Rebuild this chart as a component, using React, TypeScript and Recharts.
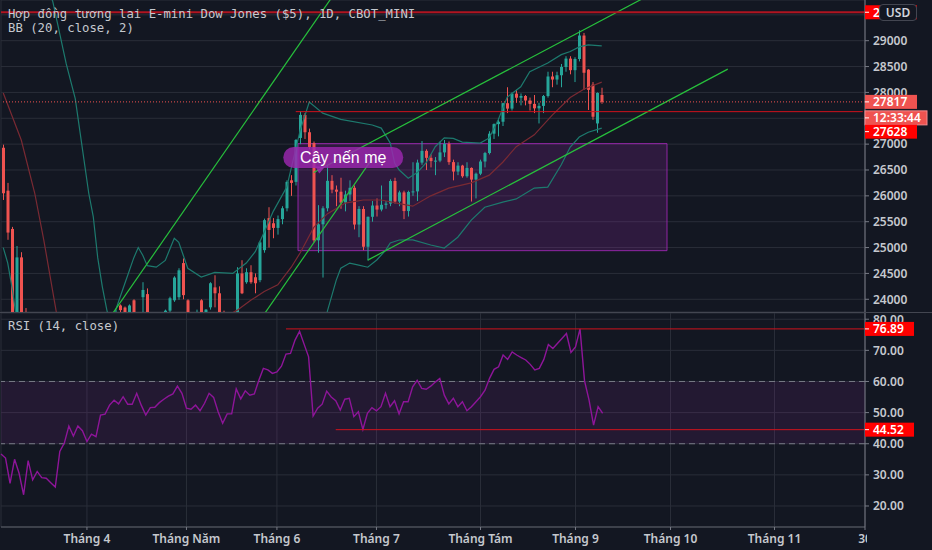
import React from "react";
import {
  ComposedChart,
  Bar,
  Line,
  XAxis,
  YAxis,
  CartesianGrid,
  ReferenceLine,
  ReferenceArea,
  ReferenceDot,
} from "recharts";

const BG = "#131722";
const GRID = "#2a2e39";
const TEXT = "#c5c8ce";
const UP = "#26a69a";
const DOWN = "#ef5350";
const RAY = "#d0121c";
const TREND = "#27c03c";
const BAND = "#1d7a6e";
const BASIS = "#7a2a33";
const RSI_COLOR = "#8e1599";
const AXIS_FONT = "'Noto Sans', 'DejaVu Sans', sans-serif";
const MONO = "'DejaVu Sans Mono', 'Liberation Mono', monospace";
const PLOT_RIGHT = 865;
const USD_LEFT = 879;

// daily bars, [open, high, low, close]; bar 0 is the first one at the left edge
const CANDLES: [number, number, number, number][] = [
  [26930, 26990, 25920, 26050], [26100, 26250, 25150, 25290], [25360, 25400, 23300, 23600],
  [23600, 25030, 23300, 24810], [24810, 24910, 23400, 23500], [23500, 23830, 21100, 21300],
  [21300, 23200, 20900, 23100], [22000, 22300, 20100, 20300], [20300, 21400, 19800, 21150],
  [21150, 21300, 19000, 19900], [19900, 20500, 19100, 20100], [20100, 20800, 19100, 19200],
  [19200, 19400, 18200, 18600], [18600, 20700, 18500, 20650], [20650, 21900, 20300, 21200],
  [21200, 22600, 21000, 22500], [22500, 22600, 21400, 21600], [21600, 22400, 21200, 22300],
  [22300, 22700, 21800, 21900], [21900, 21950, 20700, 20900], [20900, 21500, 20700, 21400],
  [21400, 21500, 20800, 21000], [21300, 22700, 21200, 22650], [22650, 23300, 22400, 22600],
  [22600, 23500, 22400, 23400], [23400, 23800, 23300, 23700], [23880, 23900, 23650, 23790],
  [23840, 23860, 23300, 23400], [23400, 23900, 23300, 23880], [23980, 24000, 23400, 23500],
  [23500, 23700, 23200, 23550], [24040, 24330, 23750, 24180], [24100, 24210, 23500, 23650],
  [23650, 23700, 22900, 23020], [23020, 23600, 23000, 23480], [23480, 23700, 23300, 23520],
  [23520, 23800, 23450, 23780], [23780, 24050, 23700, 24020], [23980, 24445, 23950, 24420],
  [24040, 24600, 23990, 24560], [24700, 24790, 24000, 24080], [23980, 24000, 23500, 23700],
  [23700, 23750, 23300, 23600], [23600, 23800, 23450, 23750], [23980, 24000, 23600, 23700],
  [23650, 23810, 23550, 23800], [23844, 24330, 23800, 24310], [24230, 24465, 23844, 24116],
  [24116, 24250, 23650, 23700], [23740, 23780, 23200, 23250], [23250, 23650, 22950, 23620],
  [23620, 23700, 23400, 23680], [23700, 24620, 23680, 24500], [24500, 24755, 24100, 24116],
  [24330, 24600, 24300, 24523], [24523, 24658, 24300, 24330], [24426, 24500, 24116, 24310],
  [24370, 25130, 24330, 25100], [24950, 25560, 24900, 25530], [25570, 25780, 25000, 25340],
  [25470, 25570, 25180, 25380], [25380, 25620, 25250, 25550], [25550, 25800, 25450, 25760],
  [25760, 26300, 25700, 26270], [26300, 26400, 26000, 26250], [26270, 27100, 26200, 27080],
  [27120, 27630, 27000, 27565], [27565, 27600, 27100, 27230], [27230, 27300, 26900, 26945],
  [27020, 27050, 25100, 25140], [25140, 25820, 24900, 25450], [25450, 25800, 24420, 25760],
  [25760, 26600, 25700, 26290], [26290, 26400, 26050, 26120], [26120, 26200, 25800, 26080],
  [26080, 26350, 25750, 25870], [25870, 26100, 25700, 26025], [26025, 26300, 25900, 26156],
  [26156, 26200, 25350, 25445], [25445, 25800, 25200, 25746], [25746, 25800, 24950, 25016],
  [25016, 25600, 24750, 25595], [25595, 25900, 25500, 25813], [25813, 25950, 25600, 25735],
  [25735, 26200, 25700, 25827], [25827, 25900, 25750, 25850], [25850, 26320, 25800, 26287],
  [26287, 26350, 25850, 25890], [25890, 26100, 25800, 26067], [26067, 26100, 25550, 25706],
  [25706, 26100, 25600, 26075], [26075, 26650, 26000, 26086], [26086, 26700, 25900, 26643],
  [26643, 27060, 26600, 26870], [26870, 26900, 26500, 26735], [26735, 26800, 26550, 26672],
  [26672, 26750, 26400, 26681], [26681, 27050, 26650, 26840], [26840, 27080, 26750, 27005],
  [27005, 27050, 26600, 26652], [26652, 26700, 26300, 26470], [26470, 26650, 26400, 26585],
  [26585, 26600, 26350, 26379], [26379, 26650, 26350, 26540], [26540, 26550, 25890, 26314],
  [26314, 26450, 25950, 26428], [26428, 26700, 26400, 26664], [26664, 26850, 26550, 26828],
  [26828, 27250, 26800, 27202], [27202, 27400, 27100, 27387], [27387, 27500, 27150, 27433],
  [27433, 27800, 27350, 27791], [27791, 28100, 27600, 27687], [27687, 28000, 27650, 27977],
  [27977, 28050, 27800, 27897], [27897, 27980, 27750, 27931], [27931, 27950, 27750, 27844],
  [27844, 27900, 27650, 27778], [27778, 27950, 27600, 27692], [27692, 27800, 27400, 27739],
  [27739, 27950, 27600, 27930], [27930, 28400, 27900, 28308], [28308, 28400, 28100, 28249],
  [28249, 28400, 28150, 28332], [28332, 28550, 28100, 28492], [28492, 28700, 28400, 28654],
  [28654, 28700, 28350, 28430], [28430, 28680, 28200, 28646], [28646, 29200, 28600, 29100],
  [29100, 29150, 28050, 28380], [28440, 28450, 27660, 28050], [28150, 28200, 27470, 27530],
  [27400, 28000, 27220, 27990], [27950, 28090, 27780, 27817],
];

// Bollinger band points: [bar, price]
const BB_UPPER: [number, number][] = [
  [0, 31500], [5, 30800], [9, 30200], [11, 29760], [14, 28550], [16, 27880], [19, 26050],
  [20, 25600], [21, 24800], [22, 24250], [23, 23800], [24, 23450], [25, 23800], [27, 24300],
  [29, 24800], [30, 25000], [31, 24850], [32, 24650], [34, 24620], [36, 24750], [38, 25180],
  [39, 25100], [40, 24850], [41, 24600], [44, 24430], [47, 24520], [51, 24500], [54, 24700],
  [56, 24920], [58, 25300], [60, 25700], [63, 26170], [66, 27270], [68, 27815], [71, 27600],
  [75, 27480], [82, 27370], [84, 27310], [86, 27020], [87, 26630], [88, 26500], [90, 26340],
  [92, 26450], [94, 26640], [96, 26950], [98, 27120], [100, 27110], [102, 27040], [106, 27020],
  [108, 27120], [110, 27470], [112, 27910], [115, 28110], [117, 28400], [121, 28570],
  [124, 28730], [126, 28790], [128, 28880], [130, 28920], [133, 28900],
];
const BB_BASIS: [number, number][] = [
  [0, 27990], [4, 27080], [7, 26050], [9, 25150], [12, 23650], [15, 22600], [20, 21500],
  [25, 21700], [30, 22500], [35, 23000], [40, 23400], [45, 23500], [48, 23600], [52, 23790],
  [55, 23980], [58, 24150], [61, 24280], [64, 24620], [66, 24900], [69, 25390], [72, 25650],
  [76, 25860], [80, 25920], [84, 25920], [88, 25850], [91, 25800], [95, 26000], [99, 26150],
  [104, 26250], [108, 26400], [111, 26650], [114, 26950], [118, 27180], [122, 27560],
  [126, 27900], [129, 28060], [133, 28200],
];
const BB_LOWER: [number, number][] = [
  [0, 25000], [1, 24700], [2, 24200], [3, 23600], [5, 22600], [8, 20500], [12, 17500],
  [16, 16200], [20, 16000], [25, 17000], [30, 19000], [35, 21200], [40, 22300], [45, 22800],
  [50, 22800], [55, 22800], [60, 22700], [64, 22600], [67, 22700], [69, 23000], [71, 23500],
  [72, 23760], [74, 24370], [75, 24600], [77, 24700], [79, 24660], [81, 24620], [83, 24760],
  [85, 24950], [86, 25090], [88, 25146], [91, 25150], [95, 25050], [98, 24990], [101, 25200],
  [104, 25530], [107, 25780], [111, 25880], [114, 25940], [118, 26150], [121, 26170],
  [124, 26600], [126, 26945], [128, 27138], [130, 27230], [133, 27310],
];

// RSI(14) per bar
const RSI: number[] = [
  36.7, 35.4, 27.3, 35.0, 30.5, 23.6, 34.6, 28.4, 31.1, 29.1,
  28.9, 27.5, 26.1, 37.5, 40.2, 45.7, 42.5, 45.7, 44.2, 40.7,
  43.1, 42.3, 49.2, 49.5, 52.4, 54.0, 52.8, 55.1, 52.7, 52.7,
  56.2, 52.4, 49.2, 51.6, 51.7, 53.2, 54.3, 55.3, 56.0, 58.5,
  56.2, 51.4, 51.1, 52.4, 50.6, 53.0, 56.2, 54.9, 50.3, 46.6,
  49.6, 49.6, 57.6, 54.4, 57.0, 55.6, 56.0, 60.4, 64.2, 63.7,
  62.6, 63.1, 64.9, 68.8, 69.0, 73.3, 76.1, 72.0, 67.9, 48.9,
  51.4, 52.7, 56.9, 55.0, 53.8, 50.8, 54.3, 54.6, 48.7, 50.3,
  44.6, 49.8, 51.6, 50.6, 51.9, 56.2, 51.9, 53.8, 49.6, 53.5,
  53.5, 58.3, 60.4, 57.8, 57.5, 58.5, 59.8, 61.0, 55.6, 52.8,
  54.6, 51.9, 53.5, 50.6, 51.9, 53.5, 55.1, 57.2, 61.0, 63.9,
  64.7, 68.5, 67.1, 69.5, 68.5, 67.7, 66.9, 65.5, 63.7, 64.2,
  67.1, 71.9, 70.6, 72.2, 73.8, 75.4, 69.3, 71.1, 76.9, 60.2,
  54.0, 46.0, 51.9, 49.8,
];

const SLOTS = 192;
const MONTH_TICKS = [19, 41, 61, 83, 106, 127, 148, 171, 191];
const MONTH_LABELS = ["Tháng 4", "Tháng Năm", "Tháng 6", "Tháng 7", "Tháng Tám", "Tháng 9", "Tháng 10", "Tháng 11", "30"];
const PRICE_TICKS = [24000, 24500, 25000, 25500, 26000, 26500, 27000, 27500, 28000, 28500, 29000, 29500];
// scale labels that sit fully under a price tag on the original
const HIDDEN_PRICE_LABELS = [27500, 29500];
const RSI_TICKS = [20, 30, 40, 50, 60, 70, 80];
const PRICE_DOMAIN: [number, number] = [23754, 29787];
const RSI_DOMAIN: [number, number] = [13.25, 82.0];

const LAST_PRICE = 27817;
const TOP_LEVEL = 29550;
const JUNE_HIGH = 27628;
const RSI_HIGH = 76.89;
const RSI_LOW = 44.52;

// trend lines drawn on the chart: two anchors each [bar, price]
const TREND_LINES: [number, number, number, number][] = [
  [24, 23686, 73, 29836],
  [58, 23714, 82, 26721],
  [69, 26450, 150, 30178],
  [81, 24757, 161, 28450],
];

const upper = new Map(BB_UPPER);
const basis = new Map(BB_BASIS);
const lower = new Map(BB_LOWER);

const rows = Array.from({ length: SLOTS }, (_, i) => {
  const c = CANDLES[i];
  return {
    i,
    o: c ? c[0] : null,
    h: c ? c[1] : null,
    l: c ? c[2] : null,
    c: c ? c[3] : null,
    range: c ? [c[2], c[1]] : null,
    up: upper.get(i) ?? null,
    mid: basis.get(i) ?? null,
    lo: lower.get(i) ?? null,
    rsi: i < RSI.length ? RSI[i] : null,
  };
});

const Candle = (props: any) => {
  const { x, width, payload } = props;
  let { y, height } = props;
  if (!payload || payload.range == null) return null;
  if (height < 0) {
    y += height;
    height = -height;
  }
  const { o, h, l, c } = payload;
  const color = c >= o ? UP : DOWN;
  const span = h - l || 1;
  const py = (v: number) => y + ((h - v) / span) * height;
  const cx = x + width / 2;
  const top = py(Math.max(o, c));
  const bot = py(Math.min(o, c));
  return (
    <g>
      <line x1={cx} x2={cx} y1={y} y2={y + height} stroke={color} strokeWidth={1} />
      <rect x={x} y={top} width={width} height={Math.max(1, bot - top)} fill={color} />
    </g>
  );
};

const PriceTick = (props: any) => {
  const { x, y, payload } = props;
  if (HIDDEN_PRICE_LABELS.includes(payload.value)) return <g />;
  return (
    <text x={x} y={y} dy="0.36em" fill={TEXT} fontSize={12} fontWeight={600} fontFamily={AXIS_FONT} textAnchor="start">
      {payload.value}
    </text>
  );
};

const RsiTick = (props: any) => {
  const { x, y, payload } = props;
  return (
    <text x={x} y={y} dy="0.36em" fill={TEXT} fontSize={12} fontWeight={600} fontFamily={AXIS_FONT} textAnchor="start">
      {Number(payload.value).toFixed(2)}
    </text>
  );
};

const MonthTick = (props: any) => {
  const { x, y, payload } = props;
  const idx = MONTH_TICKS.indexOf(payload.value);
  return (
    <g>
      <defs>
        <clipPath id={`mt-${idx}`}>
          <rect x={0} y={y - 10} width={PLOT_RIGHT + 2} height={30} />
        </clipPath>
      </defs>
      <text
        x={x}
        y={y + 11}
        textAnchor="middle"
        fill={TEXT}
        fontSize={12}
        fontWeight={600}
        fontFamily={AXIS_FONT}
        clipPath={`url(#mt-${idx})`}
      >
        {MONTH_LABELS[idx]}
      </text>
    </g>
  );
};

const Tag = (props: any) => {
  const { viewBox, text, fill, dy = 0, w = 52, stroke, clipRight } = props;
  if (!viewBox) return null;
  const x = viewBox.x + viewBox.width;
  const y = viewBox.y + dy;
  const clipId = clipRight ? `tag-clip-${text}` : undefined;
  return (
    <g>
      {clipId && (
        <defs>
          <clipPath id={clipId}>
            <rect x={x} y={y - 8} width={clipRight - x} height={16} />
          </clipPath>
        </defs>
      )}
      <rect x={x} y={y - 7} width={w} height={14} fill={fill} stroke={stroke ?? "none"} />
      <line x1={x} x2={x + 4} y1={y} y2={y} stroke="#ffffff" />
      <text
        x={x + 8}
        y={y}
        dy="0.36em"
        fill="#ffffff"
        fontSize={12}
        fontWeight={600}
        fontFamily={AXIS_FONT}
        clipPath={clipId ? `url(#${clipId})` : undefined}
      >
        {text}
      </text>
    </g>
  );
};

const Callout = (props: any) => {
  const { cx, cy } = props;
  if (cx == null || cy == null) return null;
  return (
    <g>
      <path d={`M ${cx - 30} ${cy + 9} L ${cx - 26} ${cy + 16} L ${cx - 20} ${cy + 9} Z`} fill="#9c27b0" fillOpacity={0.85} />
      <rect x={cx - 62} y={cy - 10.5} width={120} height={21} rx={10.5} fill="#9c27b0" fillOpacity={0.82} />
      <text x={cx - 2} y={cy} dy="0.36em" textAnchor="middle" fill="#ffffff" fontSize={16} fontFamily="'Liberation Sans', Arial, sans-serif">
        Cây nến mẹ
      </text>
    </g>
  );
};

const MARGIN = { top: 0, right: 0, bottom: 0, left: 1 };

function PricePane() {
  return (
    <ComposedChart width={932} height={312} data={rows} margin={MARGIN}>
      <CartesianGrid stroke={GRID} />
      <XAxis dataKey="i" type="category" ticks={MONTH_TICKS} interval={0} height={0} tick={false} axisLine={false} tickLine={false} />
      <YAxis
        orientation="right"
        width={67}
        domain={PRICE_DOMAIN}
        allowDataOverflow
        ticks={PRICE_TICKS}
        interval={0}
        tick={<PriceTick />}
        axisLine={{ stroke: "#787b86" }}
        tickLine={{ stroke: "#787b86" }}
        tickSize={4}
        tickMargin={4}
      />
      <ReferenceArea x1={66} x2={147} y1={24940} y2={27010} fill="#9c27b0" fillOpacity={0.2} stroke="#9c27b0" strokeOpacity={0.9} ifOverflow="hidden" />
      <Line dataKey="up" stroke={BAND} strokeWidth={1.2} dot={false} connectNulls isAnimationActive={false} />
      <Line dataKey="lo" stroke={BAND} strokeWidth={1.2} dot={false} connectNulls isAnimationActive={false} />
      <Line dataKey="mid" stroke={BASIS} strokeWidth={1.2} dot={false} connectNulls isAnimationActive={false} />
      <Bar dataKey="range" barSize={3} shape={<Candle />} isAnimationActive={false} />
      {TREND_LINES.map(([x1, y1, x2, y2], n) => (
        <ReferenceLine
          key={n}
          segment={[{ x: x1, y: y1 }, { x: x2, y: y2 }]}
          stroke={TREND}
          strokeWidth={1.2}
          ifOverflow="hidden"
        />
      ))}
      <ReferenceLine y={TOP_LEVEL} stroke="#b01420" strokeWidth={2} />
      <ReferenceLine segment={[{ x: 65, y: JUNE_HIGH }, { x: SLOTS - 1, y: JUNE_HIGH }]} stroke={RAY} strokeWidth={1} />
      <ReferenceLine y={LAST_PRICE} stroke={DOWN} strokeDasharray="1 2" />
      <ReferenceDot x={76} y={26742} r={0} shape={<Callout />} />
    </ComposedChart>
  );
}

// price tags sit in their own layer so they cover the scale labels, as on the original
function PriceTags() {
  return (
    <ComposedChart width={932} height={312} data={rows} margin={MARGIN}>
      <XAxis dataKey="i" type="category" height={0} tick={false} axisLine={false} tickLine={false} />
      <YAxis orientation="right" width={67} domain={PRICE_DOMAIN} allowDataOverflow tick={false} axisLine={false} tickLine={false} />
      <ReferenceLine
        y={TOP_LEVEL}
        stroke="none"
        label={(p: any) => <Tag viewBox={p.viewBox} text={String(TOP_LEVEL)} fill="#ff0000" clipRight={USD_LEFT} />}
      />
      <ReferenceLine
        y={LAST_PRICE}
        stroke="none"
        label={(p: any) => <Tag viewBox={p.viewBox} text="12:33:44" fill={DOWN} stroke="#f58a8d" dy={16} w={62} />}
      />
      <ReferenceLine y={LAST_PRICE} stroke="none" label={(p: any) => <Tag viewBox={p.viewBox} text={String(LAST_PRICE)} fill={DOWN} />} />
      <ReferenceLine y={JUNE_HIGH} stroke="none" label={(p: any) => <Tag viewBox={p.viewBox} text={String(JUNE_HIGH)} fill="#ff0000" dy={20} />} />
    </ComposedChart>
  );
}

function RsiPane() {
  return (
    <ComposedChart width={932} height={237} data={rows} margin={MARGIN}>
      <CartesianGrid stroke={GRID} />
      <XAxis
        dataKey="i"
        type="category"
        ticks={MONTH_TICKS}
        interval={0}
        height={23}
        tick={<MonthTick />}
        axisLine={{ stroke: "#5d606b" }}
        tickLine={{ stroke: "#787b86" }}
        tickSize={3}
        tickMargin={2}
      />
      <YAxis
        orientation="right"
        width={67}
        domain={RSI_DOMAIN}
        allowDataOverflow
        ticks={RSI_TICKS}
        interval={0}
        tick={<RsiTick />}
        axisLine={{ stroke: "#787b86" }}
        tickLine={{ stroke: "#787b86" }}
        tickSize={4}
        tickMargin={4}
      />
      <ReferenceArea y1={40} y2={60} fill="#9c27b0" fillOpacity={0.12} stroke="none" />
      <ReferenceLine y={60} stroke="#787b86" strokeDasharray="6 4" />
      <ReferenceLine y={40} stroke="#787b86" strokeDasharray="6 4" />
      <Line dataKey="rsi" stroke={RSI_COLOR} strokeWidth={1.4} dot={false} isAnimationActive={false} />
      <ReferenceLine segment={[{ x: 63, y: RSI_HIGH }, { x: SLOTS - 1, y: RSI_HIGH }]} stroke={RAY} />
      <ReferenceLine segment={[{ x: 74, y: RSI_LOW }, { x: SLOTS - 1, y: RSI_LOW }]} stroke={RAY} />
    </ComposedChart>
  );
}

function RsiTags() {
  return (
    <ComposedChart width={932} height={237} data={rows} margin={MARGIN}>
      <XAxis dataKey="i" type="category" height={23} tick={false} axisLine={false} tickLine={false} />
      <YAxis orientation="right" width={67} domain={RSI_DOMAIN} allowDataOverflow tick={false} axisLine={false} tickLine={false} />
      <ReferenceLine y={RSI_HIGH} stroke="none" label={(p: any) => <Tag viewBox={p.viewBox} text={RSI_HIGH.toFixed(2)} fill="#ff0000" w={49} />} />
      <ReferenceLine y={RSI_LOW} stroke="none" label={(p: any) => <Tag viewBox={p.viewBox} text={RSI_LOW.toFixed(2)} fill="#ff0000" w={49} />} />
    </ComposedChart>
  );
}

const layer = (top: number): React.CSSProperties => ({ position: "absolute", left: 0, top });

export default function App() {
  return (
    <div style={{ position: "relative", width: 932, height: 550, background: BG, overflow: "hidden" }}>
      <style>{`html,body{margin:0;padding:0;background:${BG};}`}</style>
      <div style={layer(0)}>
        <PricePane />
      </div>
      <div style={{ position: "absolute", left: 0, top: 312, width: 932, height: 1, background: "#434651" }} />
      <div style={layer(313)}>
        <RsiPane />
      </div>
      <div style={layer(0)}>
        <PriceTags />
      </div>
      <div style={layer(313)}>
        <RsiTags />
      </div>
      <svg width={932} height={550} style={{ position: "absolute", left: 0, top: 0, pointerEvents: "none" }}>
        <text x={8} y={18} fontFamily={MONO} fontSize={12.3} fill={TEXT}>
          Hợp đồng tương lai E-mini Dow Jones ($5), 1D, CBOT_MINI
        </text>
        <text x={8} y={32} fontFamily={MONO} fontSize={12.3} fill={TEXT}>
          BB (20, close, 2)
        </text>
        <text x={8} y={330} fontFamily={MONO} fontSize={12.3} fill={TEXT}>
          RSI (14, close)
        </text>
      </svg>
      <div
        style={{
          position: "absolute",
          left: USD_LEFT,
          top: 4,
          width: 36,
          height: 15,
          border: "1px solid #434651",
          borderRadius: 4,
          background: BG,
          color: "#d1d4dc",
          fontFamily: AXIS_FONT,
          fontWeight: 600,
          fontSize: 12,
          lineHeight: "15px",
          textAlign: "center",
        }}
      >
        USD
      </div>
    </div>
  );
}
